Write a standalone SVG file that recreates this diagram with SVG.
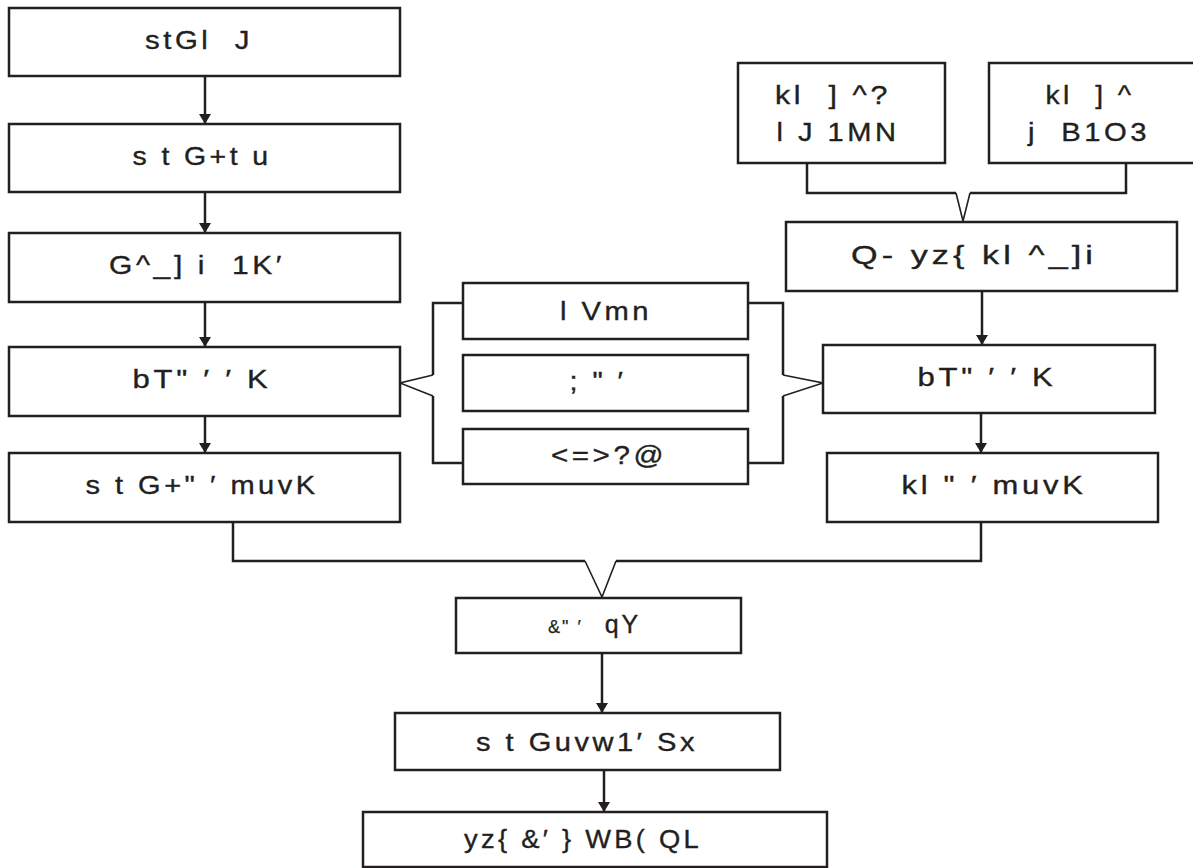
<svg xmlns="http://www.w3.org/2000/svg" width="1193" height="868" viewBox="0 0 1193 868">
<style>
.box{fill:#fff;stroke:#231f20;stroke-width:2.5}
.ln{fill:none;stroke:#231f20;stroke-width:2.5}
.thin{fill:none;stroke:#231f20;stroke-width:1.6}
.t{font-family:"Liberation Sans",Arial,sans-serif;font-size:25px;letter-spacing:3px;fill:#231f20;stroke:#231f20;stroke-width:0.35;text-anchor:middle}
.s{font-family:"Liberation Sans",Arial,sans-serif;font-size:18px;letter-spacing:2px;fill:#231f20;stroke:#231f20;stroke-width:0.25}
</style>
<defs>
<marker id="ah" viewBox="0 0 10 12" refX="10" refY="6" markerWidth="10" markerHeight="12" markerUnits="userSpaceOnUse" orient="auto">
<path d="M0,0 L10,6 L0,12 Z" fill="#231f20"/>
</marker>
</defs>
<rect width="1193" height="868" fill="#fff"/>
<g id="connectors">
<line class="ln" x1="205" y1="76" x2="205" y2="124" marker-end="url(#ah)"/>
<line class="ln" x1="205" y1="192" x2="205" y2="233" marker-end="url(#ah)"/>
<line class="ln" x1="205" y1="302" x2="205" y2="347" marker-end="url(#ah)"/>
<line class="ln" x1="205" y1="416" x2="205" y2="453" marker-end="url(#ah)"/>
<line class="ln" x1="982" y1="291" x2="982" y2="345" marker-end="url(#ah)"/>
<line class="ln" x1="981" y1="413" x2="981" y2="453" marker-end="url(#ah)"/>
<line class="ln" x1="602" y1="653" x2="602" y2="713" marker-end="url(#ah)"/>
<line class="ln" x1="604" y1="770" x2="604" y2="812" marker-end="url(#ah)"/>
<polyline class="ln" points="807,163 807,193 956,193"/>
<polyline class="ln" points="970,193 1126,193 1126,163"/>
<polyline class="thin" points="956,193 963,221 970,193"/>
<polyline class="ln" points="233,522 233,561 585,561"/>
<polyline class="ln" points="616,561 981,561 981,522"/>
<polyline class="thin" points="585,561 602,597 616,561"/>
<polyline class="ln" points="463,303 433,303 433,375"/>
<polyline class="ln" points="433,396 433,463 463,463"/>
<polyline class="thin" points="433,375 400,383 433,396"/>
<polyline class="ln" points="748,303 783,303 783,375"/>
<polyline class="ln" points="783,396 783,463 748,463"/>
<polyline class="thin" points="783,375 823,383 783,396"/>
</g>
<g id="n1"><rect class="box" x="9" y="8" width="391" height="68"/><text class="t" x="199" y="49" textLength="108" lengthAdjust="spacingAndGlyphs" xml:space="preserve">stGl  J</text></g>
<g id="n2"><rect class="box" x="9" y="124" width="391" height="68"/><text class="t" x="202" y="165" textLength="139" lengthAdjust="spacingAndGlyphs" xml:space="preserve">s t G+t u</text></g>
<g id="n3"><rect class="box" x="9" y="233" width="391" height="69"/><text class="t" x="197" y="274" textLength="176" lengthAdjust="spacingAndGlyphs" xml:space="preserve">G^_] i  1K′</text></g>
<g id="n4"><rect class="box" x="9" y="347" width="391" height="69"/><text class="t" x="202" y="388" textLength="139" lengthAdjust="spacingAndGlyphs" xml:space="preserve">bT" ′ ′ K</text></g>
<g id="n5"><rect class="box" x="9" y="453" width="391" height="69"/><text class="t" x="202" y="494" textLength="233" lengthAdjust="spacingAndGlyphs" xml:space="preserve">s t G+" ′ muvK</text></g>
<g id="m1"><rect class="box" x="463" y="283" width="285" height="56"/><text class="t" x="606" y="320" textLength="92" lengthAdjust="spacingAndGlyphs" xml:space="preserve">l Vmn</text></g>
<g id="m2"><rect class="box" x="463" y="355" width="285" height="56"/><text class="t" x="598" y="390" textLength="57" lengthAdjust="spacingAndGlyphs" xml:space="preserve">; " ′</text></g>
<g id="m3"><rect class="box" x="463" y="429" width="285" height="55"/><text class="t" x="609" y="464" textLength="116" lengthAdjust="spacingAndGlyphs">&lt;=&gt;?@</text></g>
<g id="r1"><rect class="box" x="738" y="63" width="207" height="100"/><text class="t" x="833" y="104" textLength="116" lengthAdjust="spacingAndGlyphs" xml:space="preserve">kl  ] ^?</text><text class="t" x="838" y="141" textLength="123" lengthAdjust="spacingAndGlyphs" xml:space="preserve">l J 1MN</text></g>
<g id="r2"><rect class="box" x="989" y="63" width="210" height="100"/><text class="t" x="1090" y="104" textLength="89" lengthAdjust="spacingAndGlyphs" xml:space="preserve">kl  ] ^</text><text class="t" x="1089" y="141" textLength="122" lengthAdjust="spacingAndGlyphs" xml:space="preserve">j  B1O3</text></g>
<g id="r3"><rect class="box" x="786" y="222" width="391" height="69"/><text class="t" x="974" y="264" textLength="246" lengthAdjust="spacingAndGlyphs" xml:space="preserve">Q- yz{ kl ^_]i</text></g>
<g id="r4"><rect class="box" x="823" y="345" width="332" height="68"/><text class="t" x="987" y="386" textLength="139" lengthAdjust="spacingAndGlyphs" xml:space="preserve">bT" ′ ′ K</text></g>
<g id="r5"><rect class="box" x="827" y="453" width="331" height="69"/><text class="t" x="994" y="494" textLength="185" lengthAdjust="spacingAndGlyphs" xml:space="preserve">kl " ′ muvK</text></g>
<g id="c1"><rect class="box" x="456" y="598" width="285" height="55"/><text y="633" xml:space="preserve"><tspan class="s" x="548">&amp;" ′</tspan><tspan class="t" x="623" font-size="28" letter-spacing="3">qY</tspan></text></g>
<g id="c2"><rect class="box" x="395" y="713" width="385" height="57"/><text class="t" x="587" y="751" textLength="222" lengthAdjust="spacingAndGlyphs" xml:space="preserve">s t Guvw1′ Sx</text></g>
<g id="c3"><rect class="box" x="363" y="812" width="464" height="55"/><text class="t" x="583" y="848" textLength="238" lengthAdjust="spacingAndGlyphs" xml:space="preserve">yz{ &amp;′ } WB( QL</text></g>
</svg>
